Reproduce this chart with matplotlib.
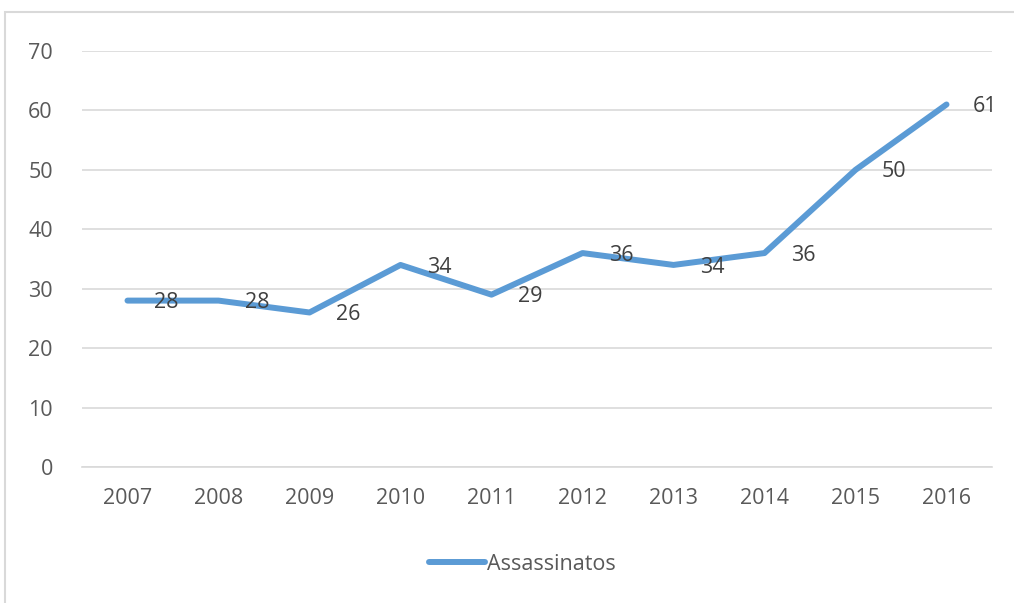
import matplotlib
matplotlib.use("Agg")
import matplotlib.pyplot as plt
from matplotlib.patches import Rectangle

plt.rcParams['font.family'] = ['Open Sans', 'DejaVu Sans']

years = ["2007", "2008", "2009", "2010", "2011", "2012", "2013", "2014", "2015", "2016"]
assassinatos = [28, 28, 26, 34, 29, 36, 34, 36, 50, 61]
y_ticks = [0, 10, 20, 30, 40, 50, 60, 70]
series_name = "Assassinatos"

W, H = 1014, 603
fig = plt.figure(figsize=(W / 100, H / 100), dpi=100)
fig.patch.set_facecolor("white")

# chart area outline
fig.add_artist(Rectangle((5 / W, -0.05), 1.1, 1 - 12 / H + 0.05,
                         transform=fig.transFigure, fill=False,
                         edgecolor="#d9d9d9", linewidth=1.5))

ax = fig.add_axes([82 / W, 1 - 467 / H, (992 - 82) / W, (467 - 51) / H])
x = list(range(len(years)))
line, = ax.plot(x, assassinatos, color="#5B9BD5", linewidth=4.3,
                solid_capstyle="round", solid_joinstyle="round", zorder=3,
                label=series_name)

for xi, v in zip(x, assassinatos):
    ax.annotate(str(v), (xi, v), xytext=(19, -1.5), textcoords="offset points",
                ha="left", va="center", fontsize=15.5, color="#404040", zorder=4)

ax.set_xlim(-0.5, len(years) - 0.5)
ax.set_ylim(0, 70)
ax.set_yticks(y_ticks)
ax.set_xticks(x)
ax.set_xticklabels(years)
ax.grid(axis="y", color="#d9d9d9", linewidth=1.2)
ax.set_axisbelow(True)
for s in ["top", "right", "left"]:
    ax.spines[s].set_visible(False)
ax.spines["bottom"].set_color("#d9d9d9")
ax.spines["bottom"].set_linewidth(1.2)
ax.tick_params(axis="both", length=0, labelsize=15.5, colors="#595959")
ax.tick_params(axis="y", pad=21)
ax.tick_params(axis="x", pad=15)

fig.legend(handles=[line], loc="center", bbox_to_anchor=(522 / W, 1 - 564 / H),
           frameon=False, fontsize=15.5, labelcolor="#595959",
           handlelength=2.6, handletextpad=0.1)

fig.savefig("out.png", dpi=100, facecolor="white")
